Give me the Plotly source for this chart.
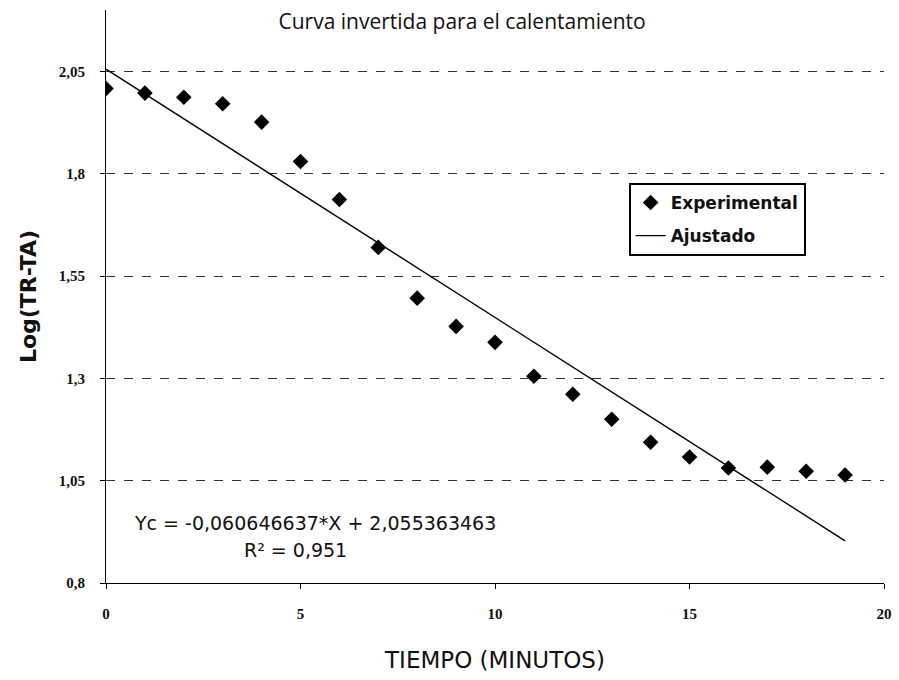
import plotly.graph_objects as go

# Tiempo (minutos) y Log(TR-TA) medidos durante el calentamiento
tiempo = list(range(20))
log_tr_ta = [2.008, 1.997, 1.987, 1.971, 1.926, 1.830, 1.737, 1.620, 1.496, 1.427,
             1.388, 1.305, 1.261, 1.200, 1.144, 1.108, 1.081, 1.083, 1.073, 1.064]

# Recta de ajuste por mínimos cuadrados
pendiente = -0.060646637
intercepto = 2.055363463
r2 = 0.951
ajuste = [pendiente * t + intercepto for t in tiempo]

y_ticks = [0.8, 1.05, 1.3, 1.55, 1.8, 2.05]
y_tick_text = ["0,8", "1,05", "1,3", "1,55", "1,8", "2,05"]
x_ticks = [0, 5, 10, 15, 20]

W, H = 899, 680
L, R, T, B = 106, 7, 10, 97
pw, ph = W - L - R, H - T - B


def px_x(v):
    return (v - L) / pw


def px_y(v):
    return (H - B - v) / ph


fig = go.Figure()
fig.add_trace(go.Scatter(
    x=tiempo, y=log_tr_ta, mode="markers", name="Experimental",
    legendgroup="exp",
    marker=dict(symbol="diamond", size=12, color="black"),
))
fig.add_trace(go.Scatter(
    x=tiempo, y=ajuste, mode="lines", name="Ajustado",
    legendgroup="aju",
    line=dict(color="black", width=1.4),
))

eq_font = dict(family="DejaVu Sans", size=19, color="#111")
fig.add_annotation(
    x=px_x(317), y=px_y(523), xref="paper", yref="paper", showarrow=False,
    xanchor="center", yanchor="middle",
    text="Yc = -0,060646637*X + 2,055363463", font=eq_font,
)
fig.add_annotation(
    x=px_x(297), y=px_y(550), xref="paper", yref="paper", showarrow=False,
    xanchor="center", yanchor="middle",
    text=f"R² = {str(r2).replace('.', ',')}", font=eq_font,
)

fig.update_layout(
    width=W, height=H,
    margin=dict(l=L, r=R, t=T, b=B),
    paper_bgcolor="white", plot_bgcolor="white",
    title=dict(
        text="Curva invertida para el calentamiento",
        x=0.514, xanchor="center", y=1 - 22 / H, yanchor="middle",
        font=dict(family="Open Sans", size=21, color="#111"),
    ),
    legend=dict(
        x=px_x(634), y=px_y(183), xanchor="left", yanchor="top",
        bordercolor="black", borderwidth=2, bgcolor="white",
        font=dict(family="DejaVu Sans", size=17, color="#111", weight="bold"),
        tracegroupgap=8,
    ),
    xaxis=dict(
        range=[0, 20], tickvals=x_ticks, ticktext=[str(v) for v in x_ticks],
        showgrid=False, zeroline=False,
        showline=True, linecolor="black", linewidth=1,
        ticks="outside", ticklen=5, tickcolor="black",
        ticklabelstandoff=12, ticklabeloverflow="allow",
        tickfont=dict(family="Liberation Serif", size=15, color="#111", weight="bold"),
        title=dict(text="TIEMPO (MINUTOS)", standoff=30,
                   font=dict(family="DejaVu Sans", size=23, color="#111")),
    ),
    yaxis=dict(
        range=[0.8, 2.2], tickvals=y_ticks, ticktext=y_tick_text,
        showgrid=True, gridcolor="#333", gridwidth=1, griddash="dash",
        zeroline=False,
        showline=True, linecolor="black", linewidth=1,
        ticks="outside", ticklen=5, tickcolor="black",
        ticklabelstandoff=12,
        tickfont=dict(family="Liberation Serif", size=15, color="#111", weight="bold"),
        title=dict(text="Log(TR-TA)", standoff=16,
                   font=dict(family="DejaVu Sans", size=22, color="#111", weight="bold")),
    ),
)

fig.write_html("out.html")
